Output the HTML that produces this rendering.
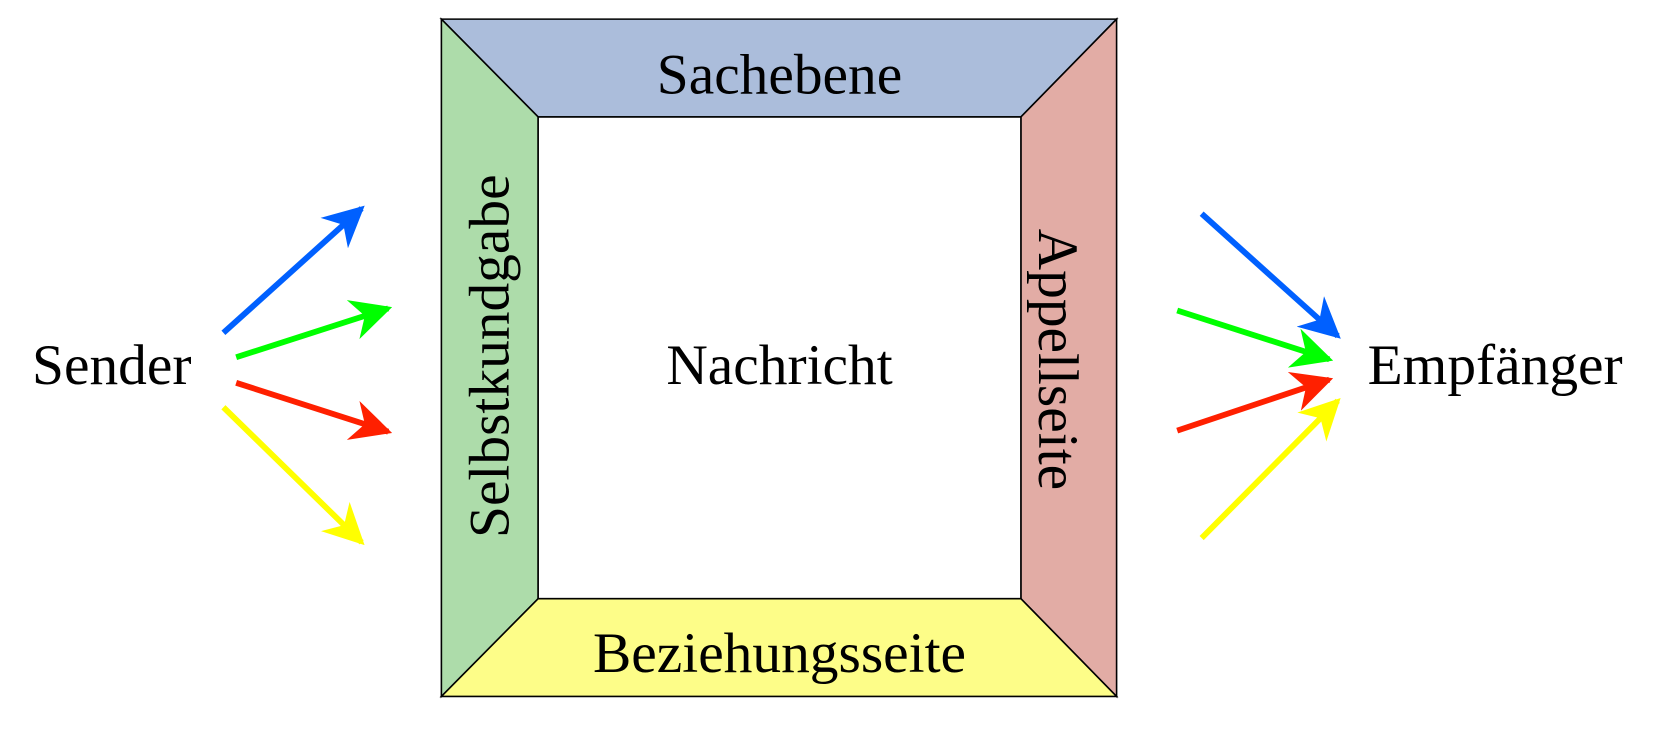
<!DOCTYPE html>
<html><head><meta charset="utf-8"><style>html,body{margin:0;padding:0;background:#fff}svg{display:block}</style></head><body>
<svg width="1659" height="739" viewBox="0 0 1560 695" xmlns="http://www.w3.org/2000/svg" font-family="Liberation Serif, serif">
<defs>
<marker id="b" viewBox="0 0 10 10" refX="9" refY="5" markerWidth="7" markerHeight="7" markerUnits="strokeWidth" orient="auto"><path d="M0,0 L10,5 L0,10 L3,5 Z" fill="#0060ff"/></marker>
<marker id="g" viewBox="0 0 10 10" refX="9" refY="5" markerWidth="7" markerHeight="7" markerUnits="strokeWidth" orient="auto"><path d="M0,0 L10,5 L0,10 L3,5 Z" fill="#00ff00"/></marker>
<marker id="r" viewBox="0 0 10 10" refX="9" refY="5" markerWidth="7" markerHeight="7" markerUnits="strokeWidth" orient="auto"><path d="M0,0 L10,5 L0,10 L3,5 Z" fill="#ff2000"/></marker>
<marker id="y" viewBox="0 0 10 10" refX="9" refY="5" markerWidth="7" markerHeight="7" markerUnits="strokeWidth" orient="auto"><path d="M0,0 L10,5 L0,10 L3,5 Z" fill="#ffff00"/></marker>
</defs>
<g stroke="#000" stroke-width="1.5">
<polygon points="415,18 1050,18 960,110 506,110" fill="#abbddb"/>
<polygon points="415,18 506,110 506,563 415,655" fill="#addcaa"/>
<polygon points="1050,18 1050,655 960,563 960,110" fill="#e2aca5"/>
<polygon points="415,655 506,563 960,563 1050,655" fill="#fdfd88"/>
<rect x="506" y="110" width="454" height="453" fill="#fff"/>
</g>
<g font-size="54" text-anchor="middle" fill="#000">
<text x="733" y="88">Sachebene</text>
<text x="733" y="361">Nachricht</text>
<text x="733" y="632">Beziehungsseite</text>
<text x="105" y="361">Sender</text>
<text x="1406" y="361">Empfänger</text>
<text transform="translate(478,335) rotate(-90)">Selbstkundgabe</text>
<text transform="translate(977,338) rotate(90)">Appellseite</text>
</g>
<g stroke-width="5.5" fill="none">
<line x1="210" y1="313" x2="340" y2="196" stroke="#0060ff" marker-end="url(#b)"/>
<line x1="222" y1="336" x2="365" y2="290" stroke="#00ff00" marker-end="url(#g)"/>
<line x1="222" y1="360" x2="365" y2="406" stroke="#ff2000" marker-end="url(#r)"/>
<line x1="210" y1="383" x2="340" y2="510" stroke="#ffff00" marker-end="url(#y)"/>
<line x1="1130" y1="201" x2="1258" y2="316" stroke="#0060ff" marker-end="url(#b)"/>
<line x1="1107" y1="292" x2="1250" y2="338" stroke="#00ff00" marker-end="url(#g)"/>
<line x1="1107" y1="405" x2="1250" y2="357" stroke="#ff2000" marker-end="url(#r)"/>
<line x1="1130" y1="506" x2="1258" y2="377" stroke="#ffff00" marker-end="url(#y)"/>
</g>
</svg>
</body></html>
